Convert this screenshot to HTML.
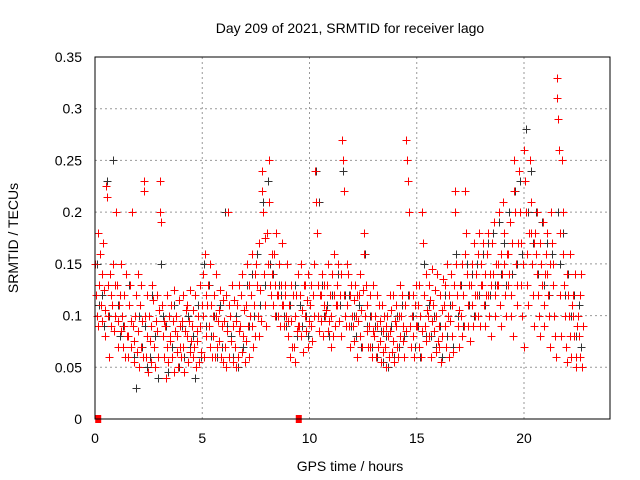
<!DOCTYPE html>
<html><head><meta charset="utf-8"><style>
body{margin:0;background:#fff}
svg{display:block;font-family:"Liberation Sans",sans-serif}
</style></head><body>
<svg id="chart" width="640" height="480">
<text x="350" y="33" text-anchor="middle" font-size="14" fill="#000">Day 209 of 2021, SRMTID for receiver lago</text>
<text x="350" y="471" text-anchor="middle" font-size="14">GPS time / hours</text>
<text transform="translate(18,238) rotate(-90)" text-anchor="middle" font-size="14">SRMTID / TECUs</text>
<g id="grid"></g><g id="ticks"></g><g id="black"></g><g id="red"></g>
<rect x="95" y="57" width="515" height="362" fill="none" stroke="#000" stroke-width="1"/>
</svg>
<script>
const xTicks=[0,5,10,15,20];
const yTicks=[0,0.05,0.1,0.15,0.2,0.25,0.3,0.35];
const yTickLabels=["0","0.05","0.1","0.15","0.2","0.25","0.3","0.35"];
const binStart=0, binWidth=0.25;
const redBins=[
[150,120,100,180,90,130,160],[110,140,95,170,125,80,105],[225,215,100,130,60,140,90],[120,110,150,85,130,100,200],
[130,95,70,110,120,150,85],[100,70,90,120,60,140,80],[80,60,110,130,70,95,200],[90,55,75,100,120,65,140],
[85,50,110,70,130,95,60],[220,230,100,60,80,120,45],[100,75,55,90,130,115,70],[70,50,95,85,120,60,105],
[200,230,190,110,80,60,95],[90,40,70,120,55,100,80],[75,110,60,95,45,125,85],[100,65,80,50,115,90,70],
[60,95,70,120,45,85,105],[110,80,55,95,65,125,75],[90,60,105,70,120,50,85],[75,100,55,130,90,65,110],
[140,100,60,160,120,80,110],[130,90,70,150,110,60,100],[80,120,60,100,140,70,95],[105,75,125,60,90,55,115],
[95,70,120,50,85,200,110],[60,100,75,130,55,90,115],[70,50,95,110,60,85,130],[90,120,65,140,80,105,55],
[110,75,150,90,60,130,100],[120,90,160,70,110,140,80],[150,130,100,170,80,125,95],[220,240,200,140,110,175,90],
[180,150,210,250,130,120,160],[140,110,160,100,130,180,120],[120,100,150,90,130,110,170],[110,90,130,120,100,150,95],
[80,110,60,130,95,70,120],[70,100,55,120,85,140,90],[90,120,80,150,105,65,130],[100,130,85,115,70,140,95],
[110,90,130,75,120,150,100],[240,210,180,100,130,85,120],[120,95,140,80,110,130,100],[105,130,85,150,95,120,70],
[100,140,80,120,160,90,110],[130,110,150,95,120,80,140],[270,250,220,120,100,90,150],[110,140,90,120,70,130,100],
[90,115,75,130,100,60,120],[95,120,80,140,105,70,125],[160,180,100,130,85,110,70],[90,120,70,100,60,130,85],
[80,100,60,120,90,70,110],[75,95,55,110,85,65,100],[70,90,50,100,80,60,120],[85,105,65,120,75,55,95],
[90,110,70,60,100,80,130],[100,120,75,90,60,110,85],[270,250,230,200,120,90,70],[100,80,120,60,110,90,130],
[90,110,70,130,100,60,85],[200,170,120,90,140,75,105],[100,130,80,115,60,95,145],[110,85,125,65,100,140,75],
[90,70,120,55,105,80,135],[110,130,90,70,150,100,60],[120,95,140,80,110,65,130],[220,200,150,120,90,70,105],
[130,100,150,80,120,90,160],[220,180,140,110,90,130,75],[130,110,150,90,170,100,120],[140,120,160,100,180,90,130],
[150,130,170,110,90,140,120],[160,120,180,100,140,80,130],[170,140,190,120,100,150,130],[150,130,200,110,160,90,140],
[210,180,150,120,100,160,130],[160,140,190,120,100,170,80],[220,250,200,150,130,110,170],[240,200,170,130,100,150,70],
[260,230,200,160,130,110,180],[250,210,180,150,120,90,170],[180,160,140,200,120,100,80],[170,150,130,190,110,90,140],
[160,140,180,120,100,70,150],[200,170,150,130,100,80,60],[330,310,290,260,180,120,80],[250,200,160,130,100,70,55],
[140,120,100,80,160,60,110],[120,100,80,140,60,50,90],[100,80,120,60,140,50,90]];
const blackBins=[[150,110],[120,90],[230,100],[250,130],[110,80],[90,60],[130,70],[60,30],[100,70],[90,50],[60,120],[80,40],[150,100],[90,45],[70,110],[80,50],[90,60],[100,70],[80,40],[110,60],[150,90],[130,80],[100,60],[110,70],[200,90],[80,60],[100,50],[120,70],[130,90],[140,100],[160,110],[210,130],[230,150],[140,100],[130,120],[100,90],[110,70],[130,80],[110,90],[100,80],[90,120],[240,210],[130,100],[110,80],[120,90],[140,110],[240,120],[120,90],[100,80],[110,70],[160,90],[100,70],[90,60],[85,55],[80,50],[90,60],[100,70],[110,80],[120,90],[100,70],[90,60],[150,80],[110,80],[100,70],[90,60],[120,80],[110,70],[160,100],[130,90],[150,110],[140,100],[150,120],[160,110],[170,120],[180,130],[190,140],[170,130],[200,140],[220,150],[230,160],[280,200],[240,170],[200,140],[190,130],[170,120],[160,100],[200,150],[180,120],[140,100],[120,80],[110,70]];
const zeroMarks=[0.15,9.5];
const NS="http://www.w3.org/2000/svg";
const X0=95,XPH=21.45,Y0=419,YPU=(419-57)/0.35;
function sx(t){return X0+t*XPH}
function sy(v){return Y0-v*YPU}
function mk(tag,attrs,parent){const e=document.createElementNS(NS,tag);for(const k in attrs)e.setAttribute(k,attrs[k]);parent.appendChild(e);return e}
const grid=document.getElementById('grid'),ticks=document.getElementById('ticks');
xTicks.forEach(t=>{
 const x=sx(t);
 if(t>0){const g=mk('line',{x1:x,x2:x,y1:57,y2:419,stroke:'#999','stroke-dasharray':'2,3'},grid);
 
 }
 const l=mk('text',{x:x,y:443,'text-anchor':'middle','font-size':'14'},ticks);l.textContent=t;
 
 
});
yTicks.forEach((v,i)=>{
 const y=sy(v);
 if(v>0){const g=mk('line',{x1:95,x2:610,y1:y,y2:y,stroke:'#999','stroke-dasharray':'2,3'},grid);
 
 }
 const l=mk('text',{x:82,y:y+5,'text-anchor':'end','font-size':'14'},ticks);l.textContent=yTickLabels[i];
 
 
});
function plus(t,v,color,parent){
 const x=Math.round(sx(t))+0.5,y=Math.round(sy(v))+0.5;
 const p=mk('path',{d:`M${x-4},${y}H${x+4}M${x},${y-4}V${y+4}`,stroke:color,'stroke-width':1,fill:'none'},parent);
 
 
}
const bg=document.getElementById('black'),rg=document.getElementById('red');
blackBins.forEach((vals,i)=>vals.forEach((v,j)=>plus(binStart+i*binWidth+(j+0.7)*binWidth/(vals.length+0.5),v/1000,'#333',bg)));
redBins.forEach((vals,i)=>vals.forEach((v,j)=>plus(binStart+i*binWidth+(j+0.5)*binWidth/vals.length,v/1000,'#f00',rg)));
zeroMarks.forEach(t=>{const r=mk('rect',{x:sx(t)-3,y:Y0-4,width:6,height:8,fill:'#f00'},rg);
 
 });
</script>
</body></html>
